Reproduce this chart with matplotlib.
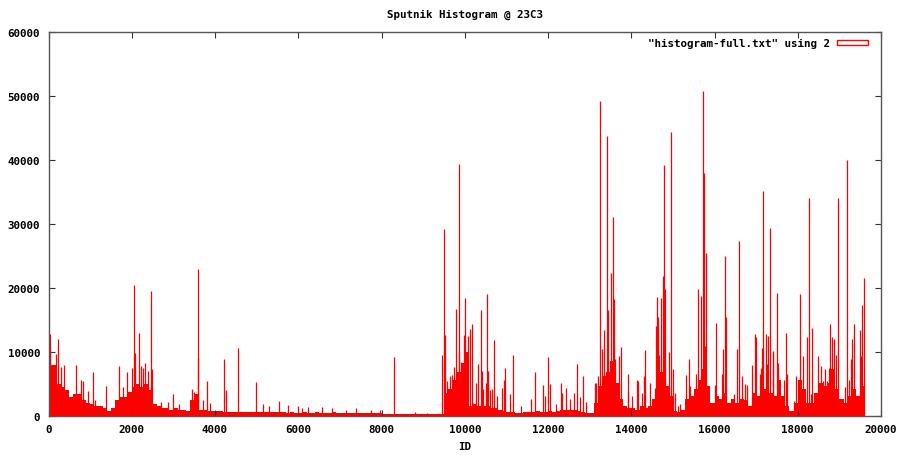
import matplotlib
matplotlib.use("Agg")
import matplotlib.pyplot as plt
from matplotlib.patches import Rectangle

FONT = "DejaVu Sans Mono"

# dense "floor" of the histogram, one value per 100 IDs (0 .. 19500)
base_start = 0
base_step = 100
base_counts = [
    8000, 8000, 5000, 4500, 4000, 3000, 3500, 3500, 2500, 2000,
    1800, 1500, 1500, 1200, 800, 1200, 2500, 3000, 3000, 3800,
    4500, 5000, 4500, 5000, 4000, 1800, 1500, 1200, 1200, 1000,
    1200, 1000, 1000, 800, 2500, 3500, 1000, 1000, 800, 800,
    800, 800, 700, 700, 700, 700, 600, 700, 600, 600,
    600, 700, 600, 600, 600, 600, 600, 500, 600, 500,
    500, 600, 500, 500, 600, 500, 500, 500, 600, 500,
    500, 500, 400, 500, 500, 400, 500, 400, 500, 400,
    300, 300, 300, 300, 300, 300, 300, 300, 300, 300,
    300, 300, 300, 300, 300, 3600, 4200, 5700, 6800, 8300,
    10000, 1500, 1800, 1500, 1500, 1500, 1200, 1200, 1000, 800,
    700, 600, 500, 500, 600, 600, 700, 800, 600, 700,
    800, 700, 800, 1000, 900, 1000, 1000, 800, 600, 500,
    500, 2000, 4700, 6200, 6800, 8600, 5200, 2600, 1600, 1300,
    1200, 1000, 1500, 1300, 1500, 2600, 4700, 6800, 4700, 3100,
    800, 700, 1000, 2600, 3100, 4200, 5700, 7300, 4700, 2000,
    3100, 2600, 3600, 2000, 2600, 2000, 2600, 2500, 1500, 3600,
    3100, 5200, 4200, 3600, 3100, 5700, 3100, 1500, 800, 2000,
    5700, 4200, 2000, 2000, 3600, 5200, 4700, 5200, 7300, 4200,
    2600, 2000, 3100, 4200, 3100, 4700,
]

# single IDs that stand out above the floor
spike_ids = [
    25, 45, 180, 236, 300, 364, 668, 780, 836, 940, 1060, 1116, 1388,
    1692, 1780, 1892, 1996, 2044, 2084, 2172, 2212, 2260, 2324, 2380,
    2468, 2484, 2700, 2860, 2980, 3140, 3436, 3500, 3580, 3596, 3700,
    3796, 3876,
    4223, 4271, 4559, 4991, 5143, 5295, 5535, 5759, 5999, 6095, 6239,
    6575, 6815, 7150, 7399, 7759, 7960, 8300, 8800, 9100,
    9459, 9507, 9523, 9579, 9643, 9683, 9739, 9795, 9851, 9867, 9899,
    9987, 10011, 10043, 10067, 10123, 10163, 10203, 10275, 10315, 10379,
    10403, 10443, 10507, 10539, 10563, 10611, 10643, 10707, 10763, 10899,
    10939, 10971, 11099, 11163, 11363, 11603, 11691, 11883, 11923, 12011,
    12043, 12203, 12323, 12347, 12443, 12523, 12619, 12707, 12763, 12843,
    12923, 13139, 13203,
    13127, 13151, 13255, 13287, 13351, 13407, 13447, 13511, 13559, 13575,
    13607, 13695, 13743, 13911, 13927, 14023, 14127, 14167, 14263, 14303,
    14327, 14455, 14495, 14567, 14599, 14620, 14640, 14671, 14719, 14751,
    14775, 14807, 14895, 14959, 14991, 15047, 15119, 15167, 15311, 15391,
    15407, 15551, 15615, 15671, 15720, 15743, 15767, 15799, 15847, 16007,
    16040, 16175, 16215, 16247, 16271, 16471, 16551, 16594,
    16650, 16722, 16770, 16906, 16962, 16986, 17090, 17114, 17146, 17163,
    17226, 17258, 17282, 17340, 17394, 17410, 17490, 17530, 17658, 17706,
    17730, 17906, 17954, 18059, 18122, 18226, 18275, 18322, 18354, 18490,
    18554, 18602, 18666, 18698, 18746, 18786, 18834, 18882, 18930, 18957,
    19130, 19189, 19226, 19290, 19314, 19354, 19490, 19514, 19542, 19562,
    19582,
]
spike_counts = [
    10900, 12800, 9700, 12000, 7700, 8000, 8000, 5700, 5400, 3900, 6800, 2500, 4700,
    7800, 4500, 6800, 7500, 20500, 9900, 13000, 7800, 7500, 8300, 7000,
    19500, 7300, 2200, 2200, 3400, 1800, 4200, 3700, 9000, 22900, 2500,
    5500, 2000,
    8900, 4000, 10600, 5300, 1800, 1600, 2400, 1700, 1600, 1300, 1400,
    1400, 1200, 1000, 1200, 1000, 900, 9200, 600, 500,
    9600, 29200, 12600, 5500, 6300, 6400, 7600, 16700, 39400, 10000, 8500,
    12600, 18400, 10000, 12500, 13600, 14300, 2000, 5200, 8200, 16500,
    7000, 4200, 5200, 19000, 7000, 4000, 4200, 11800, 3100, 4400,
    5700, 7500, 3400, 9600, 1600, 2700, 6900, 4800, 3100, 9200,
    5000, 1900, 5100, 3600, 4400, 2600, 3600, 8200, 2900, 6200,
    2200, 5200, 6200,
    2300, 5100, 49200, 10500, 13400, 43700, 16500, 22300, 31100, 18300,
    8900, 9400, 10800, 6500, 3900, 3100, 5600, 5500, 3600, 6300,
    10300, 5200, 2100, 4400, 14000, 18600, 15500, 9600, 18500, 21900,
    39200, 19900, 10000, 44300, 7300, 3600, 1600, 1800, 6400, 8900,
    4700, 6500, 19900, 18800, 50800, 37900, 11000, 25500, 4200, 4800,
    14500, 6500, 10400, 25000, 15400, 3400, 10400, 27300,
    6300, 5000, 4800, 8000, 12800, 12300, 6500, 7500, 10700, 35200,
    12800, 8200, 12500, 29400, 10200, 9900, 19200, 8300, 5700, 12900,
    6500, 2300, 6300, 19000, 9400, 12400, 34100, 3500, 13800, 9400,
    7800, 5500, 7300, 5500, 7500, 14300, 12400, 12000, 9600, 34100,
    4600, 40000, 5700, 8900, 12000, 14300, 13400, 9400, 17400, 4700,
    21500,
]

x_ticks = [0, 2000, 4000, 6000, 8000, 10000, 12000, 14000, 16000, 18000, 20000]
y_ticks = [0, 10000, 20000, 30000, 40000, 50000, 60000]

plt.rcParams['font.family'] = [FONT, 'DejaVu Sans']
plt.rcParams['font.weight'] = 'bold'
plt.rcParams['font.size'] = 7.8

W, H = 901, 456
fig = plt.figure(figsize=(W / 100, H / 100), dpi=100)
ax = fig.add_axes([48.5 / W, (H - 417) / H, (881 - 48.5) / W, (417 - 33) / H])

base_x = [base_start + i * base_step for i in range(len(base_counts))]
ax.bar(base_x, base_counts, width=base_step, align='edge', color='#ff0000', linewidth=0)
ax.vlines(spike_ids, 0, spike_counts, color='#ff0000', linewidth=0.9)

ax.set_xlim(0, 20000)
ax.set_ylim(0, 60000)
ax.set_xticks(x_ticks)
ax.set_yticks(y_ticks)
ax.tick_params(direction='in', length=4, width=0.8, color='#333333',
               top=True, right=True, pad=6, labelsize=7.8)
for s in ax.spines.values():
    s.set_color('#555555')
    s.set_linewidth(1.0)

ax.set_title("Sputnik Histogram @ 23C3", fontsize=7.8, fontweight='bold', pad=11)
ax.set_xlabel("ID", fontsize=7.8, fontweight='bold', labelpad=5)

# legend in gnuplot style: text then an outlined sample box
fig.text(830 / W, 1 - 43.5 / H, '"histogram-full.txt" using 2', ha='right', va='center',
         fontsize=7.8, fontweight='bold')
fig.patches.append(Rectangle((837 / W, 1 - 46 / H), 31 / W, 5.5 / H, transform=fig.transFigure,
                             facecolor='white', edgecolor='#ff0000', linewidth=1.0))

fig.savefig("out.png", dpi=100)
